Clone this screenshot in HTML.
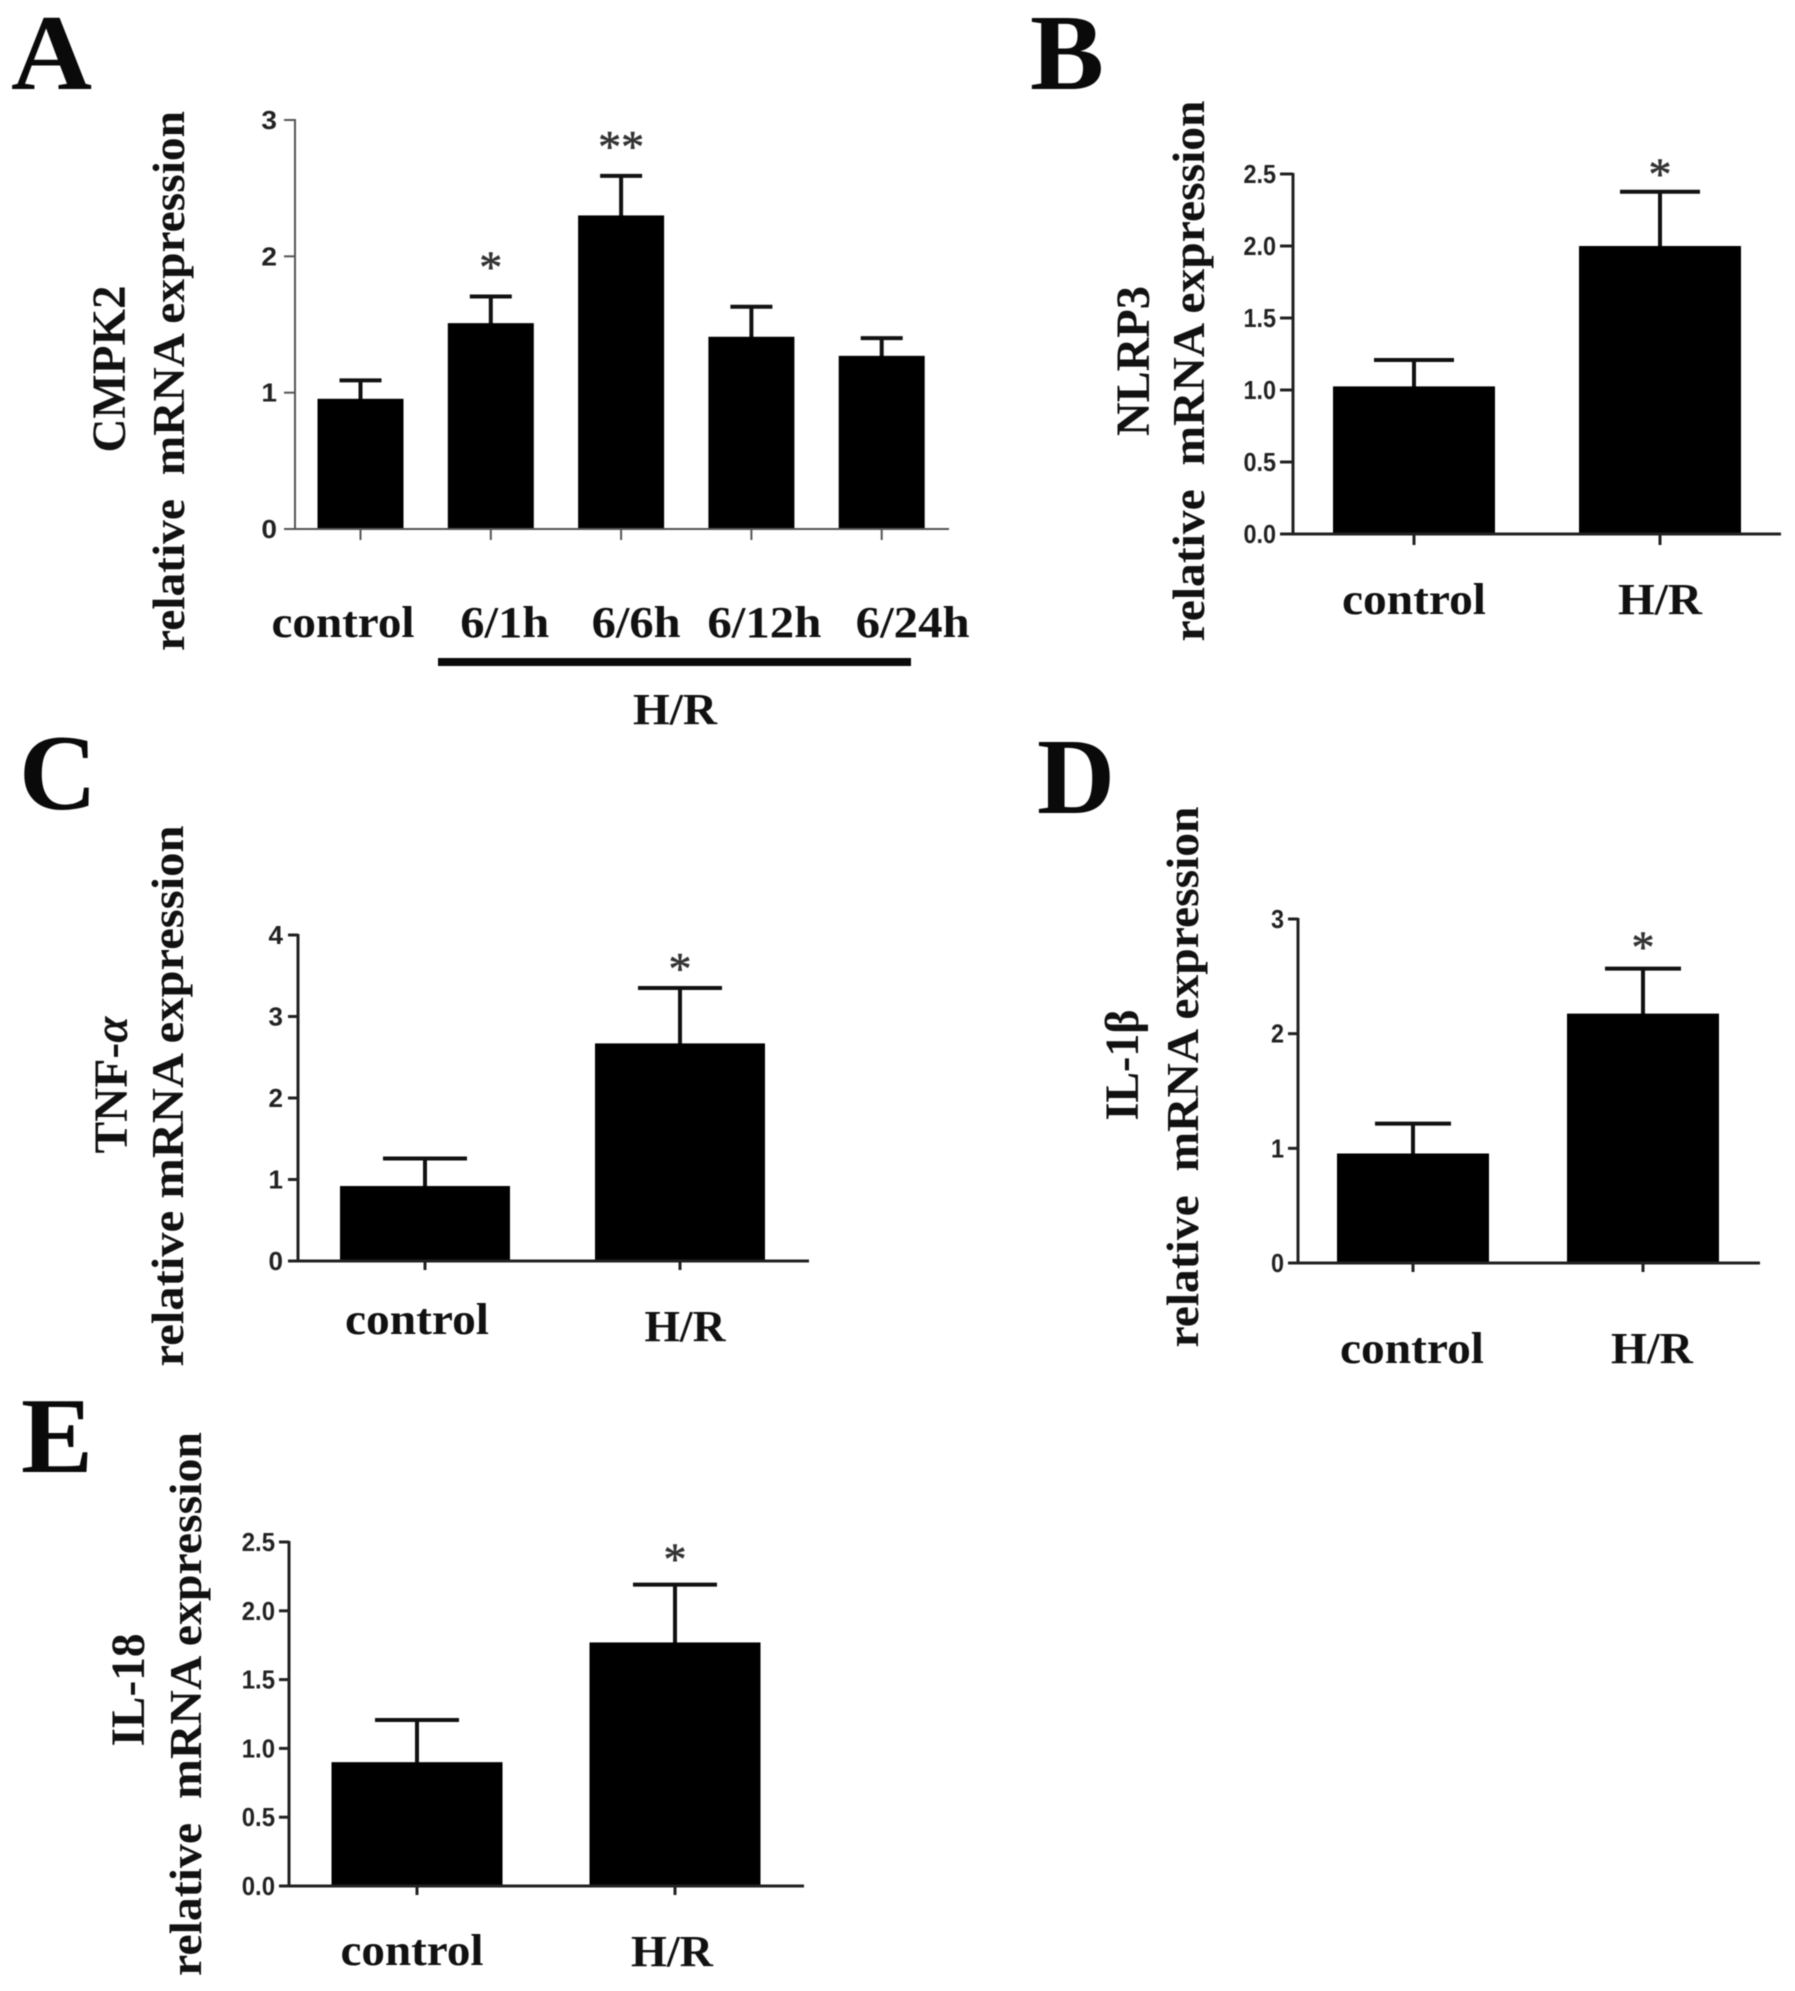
<!DOCTYPE html>
<html lang="en">
<head>
<meta charset="utf-8">
<title>mRNA expression bar charts</title>
<style>
html,body{margin:0;padding:0;background:#fff;}
svg{display:block;filter:blur(0.6px);}
.letter{font-family:"Liberation Serif",serif;font-weight:bold;font-size:108px;fill:#0a0a0a;}
.ytitle{font-family:"Liberation Serif",serif;font-weight:bold;font-size:45px;fill:#111;}
.gene{font-family:"Liberation Serif",serif;font-weight:bold;font-size:48px;fill:#111;}
.xlabel{font-family:"Liberation Serif",serif;font-weight:bold;font-size:44px;fill:#111;}
.tick{font-family:"Liberation Sans",sans-serif;font-weight:bold;font-size:26px;fill:#222;}
.star{font-family:"Liberation Serif",serif;font-size:46px;fill:#333;stroke:#333;stroke-width:0.6px;}
</style>
</head>
<body>
<svg id="figure" xmlns="http://www.w3.org/2000/svg" width="1795" height="1991" viewBox="0 0 1795 1991">
  <rect x="0" y="0" width="1795" height="1991" fill="#fff"/>

  <g id="panel-a">
    <text class="letter" x="11" y="89" textLength="81" lengthAdjust="spacingAndGlyphs">A</text>
    <text class="gene" text-anchor="middle" textLength="167" lengthAdjust="spacingAndGlyphs" transform="translate(125 369) rotate(-90)">CMPK2</text>
    <text class="ytitle" text-anchor="middle" textLength="540" lengthAdjust="spacingAndGlyphs" transform="translate(184 381) rotate(-90)">relative&nbsp; mRNA expression</text>
    <rect x="438" y="658" width="473" height="8" fill="#0a0a0a"/>
    <text class="xlabel" text-anchor="middle" textLength="84" lengthAdjust="spacingAndGlyphs" x="675" y="724">H/R</text>
  </g>

  <g id="panel-b">
    <text class="letter" x="1030" y="89" textLength="74" lengthAdjust="spacingAndGlyphs">B</text>
    <text class="gene" text-anchor="middle" textLength="150" lengthAdjust="spacingAndGlyphs" transform="translate(1149 361) rotate(-90)">NLRP3</text>
    <text class="ytitle" text-anchor="middle" textLength="541" lengthAdjust="spacingAndGlyphs" transform="translate(1204 371) rotate(-90)">relative&nbsp; mRNA expression</text>
  </g>

  <g id="panel-c">
    <text class="letter" x="19" y="809" textLength="78" lengthAdjust="spacingAndGlyphs">C</text>
    <text class="gene" text-anchor="middle" textLength="137" lengthAdjust="spacingAndGlyphs" transform="translate(127 1085) rotate(-90)">TNF-<tspan font-style="italic">α</tspan></text>
    <text class="ytitle" text-anchor="middle" textLength="541" lengthAdjust="spacingAndGlyphs" transform="translate(183 1096) rotate(-90)">relative mRNA expression</text>
  </g>

  <g id="panel-d">
    <text class="letter" x="1037" y="813" textLength="78" lengthAdjust="spacingAndGlyphs">D</text>
    <text class="gene" text-anchor="middle" textLength="111" lengthAdjust="spacingAndGlyphs" transform="translate(1138 1065) rotate(-90)">IL-1β</text>
    <text class="ytitle" text-anchor="middle" textLength="541" lengthAdjust="spacingAndGlyphs" transform="translate(1198 1077) rotate(-90)">relative&nbsp; mRNA expression</text>
  </g>

  <g id="panel-e">
    <text class="letter" x="21" y="1472" textLength="72" lengthAdjust="spacingAndGlyphs">E</text>
    <text class="gene" text-anchor="middle" textLength="113" lengthAdjust="spacingAndGlyphs" transform="translate(144 1690) rotate(-90)">IL-18</text>
    <text class="ytitle" text-anchor="middle" textLength="544" lengthAdjust="spacingAndGlyphs" transform="translate(201 1704) rotate(-90)">relative&nbsp; mRNA expression</text>
  </g>
</svg>

<script>
// ---- chart data ----
var aCategories = ['control', '6/1h', '6/6h', '6/12h', '6/24h'];
var aValues = [0.955, 1.51, 2.30, 1.41, 1.27];
var aErrorTops = [1.09, 1.705, 2.59, 1.63, 1.40];
var aStars = ['', '*', '**', '', ''];
var aTicks = [0, 1, 2, 3];
var aTickLabels = ['0', '1', '2', '3'];

var bCategories = ['control', 'H/R'];
var bValues = [1.025, 2.0];
var bErrorTops = [1.208, 2.377];
var bStars = ['', '*'];
var bTicks = [0, 0.5, 1, 1.5, 2, 2.5];
var bTickLabels = ['0.0', '0.5', '1.0', '1.5', '2.0', '2.5'];

var cCategories = ['control', 'H/R'];
var cValues = [0.92, 2.67];
var cErrorTops = [1.258, 3.35];
var cStars = ['', '*'];
var cTicks = [0, 1, 2, 3, 4];
var cTickLabels = ['0', '1', '2', '3', '4'];

var dCategories = ['control', 'H/R'];
var dValues = [0.955, 2.175];
var dErrorTops = [1.215, 2.567];
var dStars = ['', '*'];
var dTicks = [0, 1, 2, 3];
var dTickLabels = ['0', '1', '2', '3'];

var eCategories = ['control', 'H/R'];
var eValues = [0.9, 1.77];
var eErrorTops = [1.206, 2.19];
var eStars = ['', '*'];
var eTicks = [0, 0.5, 1, 1.5, 2, 2.5];
var eTickLabels = ['0.0', '0.5', '1.0', '1.5', '2.0', '2.5'];

// ---- rendering ----
var SVGNS = 'http://www.w3.org/2000/svg';

function make(parent, tag, attrs, text) {
  var el = document.createElementNS(SVGNS, tag);
  for (var k in attrs) { el.setAttribute(k, attrs[k]); }
  if (text !== undefined) { el.textContent = text; }
  parent.appendChild(el);
  return el;
}

function drawPanel(id, data, frame) {
  var host = document.getElementById('panel-' + id);
  var yScale = function (v) {
    return frame.y0 - (v / frame.yMax) * (frame.y0 - frame.yTop);
  };
  var xScale = function (i) {
    return frame.firstCenter + i * frame.step;
  };
  var axisColor = frame.axisColor;
  var el;

  data.categories.forEach(function (cat, i) {
    var cx = xScale(i);
    var top = yScale(data.values[i]);
    var errTop = yScale(data.errorTops[i]);

    el = make(host, 'line', {x1: cx, x2: cx, y1: errTop, y2: top + 2, stroke: '#111', 'stroke-width': frame.errWidth});
    
    

    el = make(host, 'line', {x1: cx - frame.capHalf, x2: cx + frame.capHalf, y1: errTop, y2: errTop, stroke: '#111', 'stroke-width': frame.errWidth});
    
    

    el = make(host, 'rect', {x: cx - frame.barWidth / 2, y: top, width: frame.barWidth, height: frame.y0 - top, fill: '#000'});
    
    

    el = make(host, 'line', {x1: cx, x2: cx, y1: frame.y0, y2: frame.y0 + frame.tickLen, stroke: axisColor, 'stroke-width': frame.axisWidth});
    
    

    el = make(host, 'text', {
      'class': 'xlabel',
      x: cx + frame.labelDx[i],
      y: frame.labelY[i],
      'text-anchor': 'middle',
      textLength: frame.labelWidth[i],
      lengthAdjust: 'spacingAndGlyphs'
    }, cat);
    
    

    if (data.stars[i]) {
      el = make(host, 'text', {
        'class': 'star',
        x: cx,
        y: errTop - frame.starGap + 21,
        'text-anchor': 'middle'
      }, data.stars[i]);
      
      
    }
  });

  el = make(host, 'line', {x1: frame.axisX, x2: frame.axisX, y1: frame.yTop - 1, y2: frame.y0, stroke: axisColor, 'stroke-width': frame.axisWidth});
  
  

  el = make(host, 'line', {x1: frame.axisX - frame.yTickLen, x2: frame.xEnd, y1: frame.y0, y2: frame.y0, stroke: axisColor, 'stroke-width': frame.axisWidth});
  
  

  data.ticks.forEach(function (t, i) {
    var y = yScale(t);
    el = make(host, 'line', {x1: frame.axisX - frame.yTickLen, x2: frame.axisX, y1: y, y2: y, stroke: axisColor, 'stroke-width': frame.axisWidth});
    
    

    el = make(host, 'text', {
      'class': 'tick',
      'text-anchor': 'end',
      transform: 'translate(' + (frame.axisX - frame.yTickLen - frame.tickGap) + ' ' + (y + 9) + ') scale(' + frame.tickScale + ' 1)'
    }, data.tickLabels[i]);
    
    
  });
}

drawPanel('a',
  {categories: aCategories, values: aValues, errorTops: aErrorTops, stars: aStars, ticks: aTicks, tickLabels: aTickLabels},
  {axisX: 295, y0: 529, yTop: 120, yMax: 3, xEnd: 949, firstCenter: 360.5, step: 130.3, barWidth: 86, capHalf: 21,
   errWidth: 4, axisWidth: 2, axisColor: '#555', tickLen: 11, yTickLen: 11, starGap: 35, tickGap: 7, tickScale: 1.08,
   labelDx: [-17.5, 14, 15, 13, 31], labelY: [637, 637, 637, 637, 637], labelWidth: [143, 89, 89, 114, 114]});

drawPanel('b',
  {categories: bCategories, values: bValues, errorTops: bErrorTops, stars: bStars, ticks: bTicks, tickLabels: bTickLabels},
  {axisX: 1293, y0: 534, yTop: 174, yMax: 2.5, xEnd: 1781, firstCenter: 1414, step: 246, barWidth: 162, capHalf: 40,
   errWidth: 4, axisWidth: 3, axisColor: '#222', tickLen: 11, yTickLen: 13, starGap: 23, tickGap: 4, tickScale: 0.9,
   labelDx: [0, 0], labelY: [614, 614], labelWidth: [144, 84]});

drawPanel('c',
  {categories: cCategories, values: cValues, errorTops: cErrorTops, stars: cStars, ticks: cTicks, tickLabels: cTickLabels},
  {axisX: 298, y0: 1261, yTop: 935, yMax: 4, xEnd: 809, firstCenter: 425, step: 255, barWidth: 170, capHalf: 42,
   errWidth: 4, axisWidth: 3, axisColor: '#222', tickLen: 9, yTickLen: 10, starGap: 25, tickGap: 5, tickScale: 1,
   labelDx: [-8, 5], labelY: [1334, 1341], labelWidth: [144, 81]});

drawPanel('d',
  {categories: dCategories, values: dValues, errorTops: dErrorTops, stars: dStars, ticks: dTicks, tickLabels: dTickLabels},
  {axisX: 1298, y0: 1263, yTop: 919, yMax: 3, xEnd: 1760, firstCenter: 1413, step: 230, barWidth: 152, capHalf: 38,
   errWidth: 4, axisWidth: 3, axisColor: '#222', tickLen: 9, yTickLen: 10, starGap: 27, tickGap: 4, tickScale: 0.9,
   labelDx: [-1, 9], labelY: [1363, 1363], labelWidth: [144, 82]});

drawPanel('e',
  {categories: eCategories, values: eValues, errorTops: eErrorTops, stars: eStars, ticks: eTicks, tickLabels: eTickLabels},
  {axisX: 289, y0: 1886, yTop: 1542, yMax: 2.5, xEnd: 804, firstCenter: 417, step: 258, barWidth: 171, capHalf: 42,
   errWidth: 4, axisWidth: 3, axisColor: '#222', tickLen: 9, yTickLen: 10, starGap: 31, tickGap: 4, tickScale: 0.92,
   labelDx: [-5, -3], labelY: [1965, 1966], labelWidth: [143, 82]});
</script>
</body>
</html>
